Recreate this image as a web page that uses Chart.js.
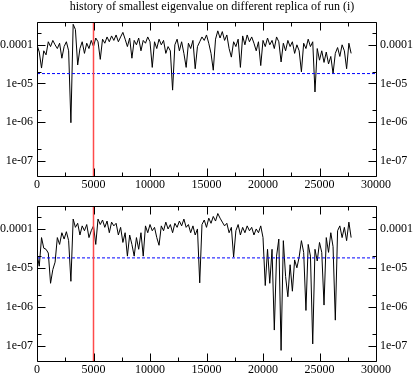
<!DOCTYPE html>
<html><head><meta charset="utf-8">
<script src="https://cdn.jsdelivr.net/npm/chart.js@4.4.1/dist/chart.umd.min.js"></script>
<style>
html,body{margin:0;padding:0;background:#fff;}
#wrap{position:relative;width:413px;height:374px;overflow:hidden;background:#fff;}
canvas{position:absolute;left:0;}
</style></head><body>
<div id="wrap">
<canvas id="c1" width="413" height="194" style="top:0px"></canvas>
<canvas id="c2" width="413" height="180" style="top:194px"></canvas>
</div>
<script>
const titleText = "history of smallest eigenvalue on different replica of run (i)";

const steps = [
0,200,400,600,800,1000,1200,1400,1600,1800,
2000,2200,2400,2600,2800,3000,3200,3400,3600,3800,
4000,4200,4400,4600,4800,5000,5200,5400,5600,5800,
6000,6200,6400,6600,6800,7000,7200,7400,7600,7800,
8000,8200,8400,8600,8800,9000,9200,9400,9600,9800,
10000,10200,10400,10600,10800,11000,11200,11400,11600,11800,
12000,12200,12400,12600,12800,13000,13200,13400,13600,13800,
14000,14200,14400,14600,14800,15000,15200,15400,15600,15800,
16000,16200,16400,16600,16800,17000,17200,17400,17600,17800,
18000,18200,18400,18600,18800,19000,19200,19400,19600,19800,
20000,20200,20400,20600,20800,21000,21200,21400,21600,21800,
22000,22200,22400,22600,22800,23000,23200,23400,23600,23800,
24000,24200,24400,24600,24800,25000,25200,25400,25600,25800,
26000,26200,26400,26600,26800,27000,27200,27400,27600,27800];

const replicaTop = [
1.0e-4,6.5e-5,2.5e-5,7e-5,5.5e-5,1.2e-4,9e-5,1.3e-4,1.0e-4,8e-5,
1.1e-4,4.5e-5,9e-5,1.2e-4,7e-5,9.6e-7,3.4e-4,2.5e-4,3e-5,8e-5,
1.2e-4,6e-5,1.1e-4,8e-5,1.3e-4,9e-5,1.5e-4,1.2e-4,4.2e-5,1.4e-4,
1.1e-4,1.6e-4,1.2e-4,1.7e-4,1.3e-4,1.8e-4,1.2e-4,1.6e-4,2.1e-4,1.4e-4,
9e-5,1.5e-4,4.5e-5,1.3e-4,1.0e-4,1.5e-4,7e-5,1.3e-4,1.1e-4,1.6e-4,
1.2e-4,2.6e-5,1.2e-4,8e-5,1.4e-4,1.0e-4,1.3e-4,6e-5,9e-5,7e-5,
6.7e-6,1.0e-4,1.4e-4,7e-5,1.2e-4,6e-5,2.6e-5,1.1e-4,8e-5,1.3e-4,
2.4e-5,9e-5,1.2e-4,1.6e-4,1.3e-4,1.8e-4,1.1e-4,6e-5,2.2e-5,1.4e-4,
2.3e-4,1.5e-4,2.2e-4,1.3e-4,1.8e-4,8e-5,4.8e-5,1.2e-4,9e-5,1.4e-4,
2.6e-5,1.7e-4,1.0e-4,1.8e-4,1.2e-4,1.6e-4,1.1e-4,7e-5,1.2e-4,2.9e-5,
1.3e-4,9e-5,1.5e-4,1.0e-4,1.3e-4,8e-5,1.6e-4,1.2e-4,3.6e-5,1.1e-4,
7e-5,1.3e-4,9e-5,1.2e-4,6e-5,1.0e-4,7e-5,2e-5,1.1e-4,8e-5,
1.4e-4,9e-5,1.2e-4,6e-6,8e-5,4e-5,7e-5,3.5e-5,6.5e-5,3.2e-5,
5e-5,1.8e-5,6e-5,8.5e-5,5e-5,1.0e-4,7e-5,2.4e-5,1.1e-4,6e-5];

const replicaBottom = [
2.3e-5,1.1e-5,6e-5,3.2e-5,3e-5,2.4e-5,4e-6,9e-6,1.4e-5,6e-5,
4e-5,8e-5,5.5e-5,8.5e-5,5e-5,4.5e-6,1.8e-4,1.1e-4,1.4e-4,7e-5,
1.2e-4,9e-5,1.3e-4,6e-5,9e-5,1.2e-4,4e-5,1.8e-4,1.3e-4,1.7e-4,
1.1e-4,1.6e-4,8e-5,1.5e-4,1.2e-4,1.4e-4,7e-5,1.1e-4,4.5e-5,8e-5,
2e-5,7e-5,4e-5,2e-5,6e-5,3e-5,8e-5,2e-5,1.2e-4,8e-5,
1.3e-4,9e-5,1.1e-4,6e-5,3.8e-5,1.2e-4,9e-5,1.5e-4,1.0e-4,1.3e-4,
8e-5,1.4e-4,1.1e-4,1.6e-4,1.2e-4,1.8e-4,1.1e-4,1.3e-4,8e-5,1.2e-4,
7e-5,1.0e-4,4.1e-6,1.3e-4,1.7e-4,1.1e-4,1.9e-4,1.4e-4,2.1e-4,1.6e-4,
2.5e-4,1.9e-4,1.5e-4,1.2e-4,1.4e-4,8e-5,1.1e-4,1.9e-5,9e-5,1.3e-4,
7e-5,1.1e-4,8e-5,1.2e-4,9e-5,1.1e-4,7e-5,1.0e-4,8e-5,1.2e-4,
6e-5,3.5e-6,3e-5,4e-6,3e-5,2.5e-7,2e-5,5.5e-5,7.5e-8,5e-5,
6e-6,1.8e-6,1.2e-5,2.5e-6,1.6e-5,1.0e-5,1.9e-5,5e-5,2.5e-5,8e-7,
4e-5,2e-5,1.1e-7,3e-5,1.5e-5,4.5e-5,2.5e-5,1.1e-6,6e-5,2.5e-5,
8e-5,3.5e-5,4.5e-7,9e-5,1.2e-4,6e-5,1.1e-4,5e-5,1.5e-4,6e-5];

const markerStep = 5000;
const thresholdValue = 1.8e-5;

const xRange = [0, 30000];
const yRange = [4e-8, 3.9e-4];
const xTicks = [0, 5000, 10000, 15000, 20000, 25000, 30000];
const xTickLabels = ["0", "5000", "10000", "15000", "20000", "25000", "30000"];
const xMinorTicks = [2500, 7500, 12500, 17500, 22500, 27500];
const yTicks = [1e-7, 1e-6, 1e-5, 1e-4];
const yTickLabels = ["1e-07", "1e-06", "1e-05", "0.0001"];
const yMinorTicks = [2e-7, 2e-6, 2e-5, 2e-4];

const FONT = "'Liberation Serif', 'Times New Roman', serif";

const frameTicks = {
  id: 'frameTicks',
  afterLayout(chart) {
    if (chart.titleBlock && chart.titleBlock.options.display) {
      chart.titleBlock.left += 11;
    }
  },
  afterDatasetsDraw(chart) {
    const ctx = chart.ctx, a = chart.chartArea, x = chart.scales.x, y = chart.scales.y;
    const L = a.left + 0.5, R = a.right + 0.5, T = a.top + 0.5, B = a.bottom + 0.5;
    ctx.save();
    ctx.strokeStyle = '#000';
    ctx.lineWidth = 1;
    ctx.beginPath();
    ctx.rect(L, T, R - L, B - T);
    const xt = (list, len) => list.forEach(v => {
      const p = Math.round(x.getPixelForValue(v)) + 0.5;
      ctx.moveTo(p, B); ctx.lineTo(p, B - len);
      ctx.moveTo(p, T); ctx.lineTo(p, T + len);
    });
    const yt = (list, len) => list.forEach(v => {
      const p = Math.round(y.getPixelForValue(v)) + 0.5;
      ctx.moveTo(L, p); ctx.lineTo(L + len, p);
      ctx.moveTo(R, p); ctx.lineTo(R - len, p);
    });
    xt(xTicks, 8); xt(xMinorTicks, 4);
    yt(yTicks, 8); yt(yMinorTicks, 4);
    ctx.stroke();
    ctx.restore();
  }
};

function yAxis(pos) {
  return {
    type: 'logarithmic', position: pos, min: yRange[0], max: yRange[1],
    afterBuildTicks: s => { s.ticks = yTicks.map(v => ({ value: v })); },
    ticks: { callback: (v, i) => yTickLabels[i], color: '#000', padding: 4,
             font: { family: FONT, size: 12 }, autoSkip: false },
    grid: { display: false, drawTicks: false, tickLength: 0 }, border: { display: false },
    afterFit: s => { s.width = 37; }
  };
}

function makeChart(id, values, opts) {
  return new Chart(document.getElementById(id), {
    type: 'line',
    data: {
      datasets: [
        { data: steps.map((s, i) => ({ x: s, y: values[i] })), borderColor: '#000',
          borderWidth: 1, pointRadius: 0, tension: 0, order: 3 },
        { data: [{ x: xRange[0], y: thresholdValue }, { x: xRange[1], y: thresholdValue }],
          borderColor: '#0000ff', borderWidth: 1, borderDash: [3, 2], pointRadius: 0, order: 2 },
        { data: [{ x: markerStep, y: yRange[0] }, { x: markerStep, y: yRange[1] }],
          borderColor: '#ff4a4a', borderWidth: 1.5, pointRadius: 0, order: 1 }
      ]
    },
    options: {
      responsive: false, animation: false, events: [],
      layout: { padding: { top: opts.padTop, left: 0, right: 0, bottom: 0 } },
      plugins: {
        legend: { display: false }, tooltip: { enabled: false },
        title: {
          display: !!opts.title, text: opts.title || '', color: '#000',
          font: { family: FONT, size: 12, weight: 'normal', lineHeight: 1 },
          padding: { top: 0.5, bottom: 9.5 }
        }
      },
      scales: {
        x: {
          type: 'linear', position: 'bottom', min: xRange[0], max: xRange[1],
          afterBuildTicks: s => { s.ticks = xTicks.map(v => ({ value: v })); },
          ticks: { callback: (v, i) => xTickLabels[i], color: '#000', padding: 2,
                   maxRotation: 0, autoSkip: false, font: { family: FONT, size: 12 } },
          grid: { display: false, drawTicks: false, tickLength: 0 }, border: { display: false },
          afterFit: s => { s.height = opts.xHeight; }
        },
        y: yAxis('left'),
        y2: yAxis('right')
      }
    },
    plugins: [frameTicks]
  });
}

makeChart('c1', replicaTop, { title: titleText, padTop: 0, xHeight: 18 });
makeChart('c2', replicaBottom, { title: null, padTop: 12, xHeight: 13 });
</script>
</body></html>
